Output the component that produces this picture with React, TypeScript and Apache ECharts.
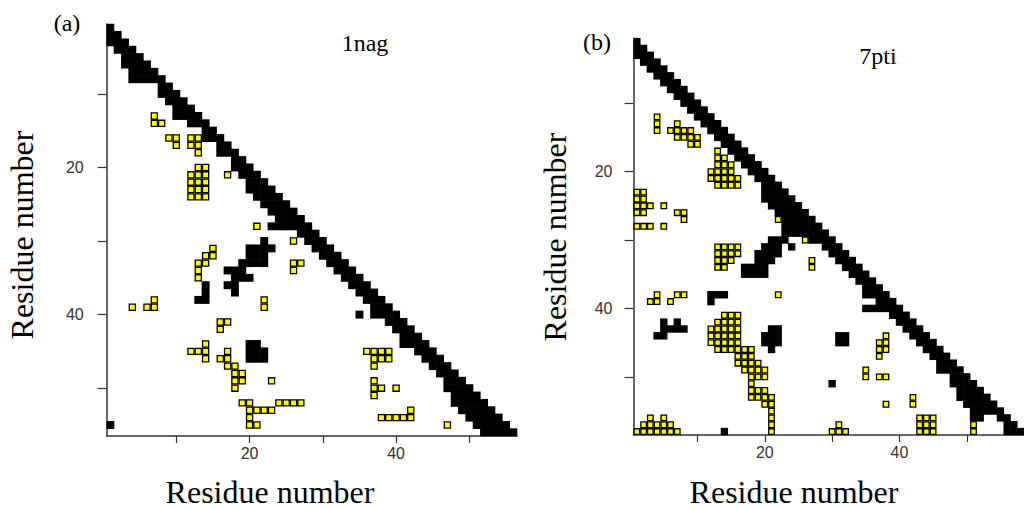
import React, { useEffect, useRef } from "react";
import * as echarts from "echarts";

// ---------- data ----------
const lengthA = 56; // 1nag residues
const lengthB = 58; // 7pti residues
const residuesA: string[] = Array.from({ length: lengthA }, (_, k) => String(k + 1));
const residuesB: string[] = Array.from({ length: lengthB }, (_, k) => String(k + 1));

const tickMarks = [10, 20, 30, 40, 50];
const tickLabels = ["20", "40"];

// runs of contacts: [row residue, first column residue, last column residue]
const blackA: number[][] = [
  [1, 1, 1], [2, 1, 2], [3, 1, 3], [4, 2, 4], [5, 3, 5], [6, 3, 6], [7, 4, 7], [8, 4, 8],
  [9, 8, 9], [10, 8, 10], [11, 9, 11], [12, 10, 12], [13, 10, 13], [14, 12, 14], [15, 14, 15],
  [16, 14, 16], [17, 16, 17], [18, 16, 18], [19, 18, 19], [20, 18, 20], [21, 19, 21],
  [22, 20, 22], [23, 20, 23], [24, 21, 24], [25, 22, 25], [26, 23, 26], [27, 24, 27],
  [28, 23, 28], [29, 27, 29], [30, 28, 30], [31, 29, 31], [32, 30, 32], [33, 31, 33],
  [34, 32, 34], [35, 33, 35], [36, 34, 36], [37, 35, 37], [38, 36, 38], [39, 37, 39],
  [40, 37, 40], [41, 39, 41], [42, 40, 42], [43, 41, 43], [44, 41, 44], [45, 43, 45],
  [46, 44, 46], [47, 45, 47], [48, 46, 48], [49, 47, 49], [50, 47, 50], [51, 48, 51],
  [52, 48, 52], [53, 49, 53], [54, 50, 54], [55, 51, 55], [56, 52, 56],
  [30, 22, 22], [31, 20, 23], [32, 20, 22], [33, 19, 22], [34, 17, 19], [35, 18, 20],
  [36, 17, 18], [37, 18, 18],
  [36, 14, 14], [37, 14, 14], [38, 13, 14],
  [44, 20, 21], [45, 20, 22], [46, 20, 22],
  [40, 35, 35], [55, 1, 1],
];

const yellowA: number[][] = [
  [13, 7, 7], [14, 7, 8], [16, 9, 10], [16, 12, 13], [17, 10, 10], [17, 12, 13], [18, 13, 13],
  [20, 13, 14], [21, 12, 14], [21, 17, 17], [22, 12, 14], [23, 12, 14], [24, 12, 14],
  [28, 21, 21], [30, 26, 26], [31, 15, 15], [32, 14, 15], [33, 13, 14], [33, 26, 27],
  [34, 13, 13], [34, 26, 26], [35, 13, 13], [38, 7, 7], [38, 22, 22], [39, 4, 4], [39, 6, 7],
  [39, 22, 22], [41, 16, 17], [42, 16, 16], [44, 14, 14], [45, 12, 14], [45, 17, 17],
  [45, 36, 39], [46, 14, 14], [46, 16, 17], [46, 37, 39], [47, 17, 18], [47, 37, 37],
  [48, 18, 19], [49, 18, 19], [49, 23, 23], [49, 37, 37], [50, 18, 18], [50, 37, 38],
  [50, 40, 40], [51, 37, 37], [52, 19, 20], [52, 24, 27], [53, 20, 23], [53, 42, 42],
  [54, 20, 20], [54, 38, 42], [55, 20, 21], [55, 47, 47],
];

const blackB: number[][] = [
  [1, 1, 1], [2, 1, 2], [3, 1, 3], [4, 2, 4], [5, 3, 5], [6, 4, 6], [7, 5, 7], [8, 6, 8],
  [9, 7, 9], [10, 8, 10], [11, 9, 11], [12, 10, 12], [13, 11, 13], [14, 12, 14], [15, 13, 15],
  [16, 14, 16], [17, 15, 17], [18, 16, 18], [19, 17, 19], [20, 18, 20], [21, 19, 21],
  [22, 20, 22], [23, 20, 23], [24, 20, 24], [25, 21, 25], [26, 22, 26], [27, 23, 27],
  [28, 23, 28], [29, 23, 29], [30, 27, 30], [31, 29, 31], [32, 30, 32], [33, 31, 33],
  [34, 32, 34], [35, 33, 35], [36, 34, 36], [37, 35, 37], [38, 35, 38], [39, 37, 39],
  [40, 35, 40], [41, 39, 41], [42, 40, 42], [43, 41, 43], [44, 42, 44], [45, 43, 45],
  [46, 44, 46], [47, 45, 47], [48, 46, 48], [49, 46, 49], [50, 48, 50], [51, 48, 51],
  [52, 49, 52], [53, 49, 53], [54, 50, 54], [55, 51, 55], [56, 51, 52], [56, 55, 56],
  [57, 56, 57], [58, 56, 58],
  [30, 21, 23], [31, 20, 22], [31, 24, 24], [32, 19, 22], [33, 19, 21], [34, 17, 20],
  [35, 17, 20],
  [38, 12, 14], [39, 12, 12], [42, 5, 5], [42, 7, 7], [43, 5, 8], [44, 4, 5],
  [43, 21, 22], [44, 20, 22], [45, 20, 22], [46, 21, 21],
  [44, 31, 32], [45, 31, 32], [51, 30, 30], [58, 14, 14],
];

const yellowB: number[][] = [
  [12, 4, 4], [13, 4, 4], [14, 4, 4], [13, 7, 7], [14, 6, 9], [15, 7, 10], [16, 9, 10],
  [17, 13, 13], [18, 13, 14], [19, 13, 15], [20, 12, 15], [21, 12, 16], [22, 13, 16],
  [23, 1, 2], [24, 1, 2], [25, 1, 3], [25, 5, 5], [26, 1, 2], [26, 7, 8], [27, 8, 8],
  [27, 22, 22], [28, 1, 3], [28, 5, 5], [30, 26, 26],
  [31, 13, 16], [32, 13, 16], [33, 13, 15], [33, 27, 27], [34, 13, 14], [34, 27, 27],
  [38, 4, 4], [38, 7, 8], [38, 22, 22], [39, 3, 4], [39, 6, 6],
  [41, 14, 16], [42, 13, 16], [43, 12, 16], [44, 12, 16], [44, 38, 38], [45, 12, 16],
  [45, 37, 38], [46, 13, 18], [46, 37, 38], [47, 16, 18], [47, 37, 37], [48, 16, 19],
  [49, 17, 20], [49, 35, 35], [50, 18, 20], [50, 35, 35], [50, 37, 38], [51, 18, 18],
  [52, 18, 20], [53, 18, 21], [53, 42, 42], [54, 20, 21], [54, 38, 38], [54, 42, 42],
  [55, 21, 21], [56, 21, 21], [56, 3, 3], [56, 5, 5], [56, 43, 45], [57, 2, 6],
  [57, 21, 21], [57, 31, 31], [57, 43, 45], [57, 51, 51], [58, 1, 7], [58, 21, 21],
  [58, 30, 32], [58, 43, 45], [58, 51, 51],
];

// ---------- helpers ----------
function expand(runs: number[][]): number[][] {
  const out: number[][] = [];
  runs.forEach(([row, a, b]) => {
    for (let c = a; c <= b; c++) out.push([c - 1, row - 1]);
  });
  return out;
}

const blackRender = (params: any, api: any) => {
  const c = api.coord([api.value(0), api.value(1)]);
  const s = api.size([1, 1]);
  return {
    type: "rect",
    shape: { x: c[0] - s[0] / 2 - 0.3, y: c[1] - s[1] / 2 - 0.3, width: s[0] + 0.6, height: s[1] + 0.6 },
    style: { fill: "#000000" },
  };
};

const yellowRender = (params: any, api: any) => {
  const c = api.coord([api.value(0), api.value(1)]);
  const s = api.size([1, 1]);
  return {
    type: "rect",
    shape: { x: c[0] - s[0] / 2 + 0.6, y: c[1] - s[1] / 2 + 0.6, width: s[0] - 1.2, height: s[1] - 1.2 },
    style: { fill: "#ffff00", stroke: "#000000", lineWidth: 1.3 },
  };
};

const axisColor = "#333333";
const labelFont = { fontSize: 16, color: "#333333", fontFamily: "Liberation Sans" };

function makeX(gridIndex: number, data: string[]) {
  return {
    gridIndex,
    type: "category",
    data,
    position: "bottom",
    boundaryGap: true,
    axisLine: { show: true, lineStyle: { color: axisColor, width: 1.5 } },
    axisTick: {
      show: true,
      alignWithLabel: true,
      interval: (i: number) => tickMarks.includes(i + 1),
      length: 7,
      lineStyle: { color: axisColor, width: 1.2 },
    },
    axisLabel: { interval: (i: number, v: string) => tickLabels.includes(v), margin: 9, ...labelFont },
    splitLine: { show: false },
  };
}

function makeY(gridIndex: number, data: string[], margin: number) {
  return {
    gridIndex,
    type: "category",
    data,
    inverse: true,
    position: "left",
    boundaryGap: true,
    axisLine: { show: true, lineStyle: { color: axisColor, width: 1.5 } },
    axisTick: {
      show: true,
      alignWithLabel: true,
      interval: (i: number) => tickMarks.includes(i + 1),
      length: 9,
      lineStyle: { color: axisColor, width: 1.2 },
    },
    axisLabel: { interval: (i: number, v: string) => tickLabels.includes(v), margin, ...labelFont },
    splitLine: { show: false },
  };
}

const serif = '"Liberation Serif", "Times New Roman", serif';

export default function App() {
  const ref = useRef<HTMLDivElement>(null);
  useEffect(() => {
    if (!ref.current) return;
    const chart = echarts.init(ref.current, undefined, { renderer: "svg" });
    chart.setOption({
      animation: false,
      backgroundColor: "#ffffff",
      grid: [
        { left: 106.7, top: 24, width: 410.3, height: 412 },
        { left: 633.5, top: 38.2, width: 398.6, height: 396.8 },
      ],
      xAxis: [makeX(0, residuesA), makeX(1, residuesB)],
      yAxis: [makeY(0, residuesA, 23), makeY(1, residuesB, 21)],
      series: [
        { type: "custom", name: "1nag contacts", xAxisIndex: 0, yAxisIndex: 0, data: expand(blackA), renderItem: blackRender, silent: true },
        { type: "custom", name: "1nag selected", xAxisIndex: 0, yAxisIndex: 0, data: expand(yellowA), renderItem: yellowRender, silent: true },
        { type: "custom", name: "7pti contacts", xAxisIndex: 1, yAxisIndex: 1, data: expand(blackB), renderItem: blackRender, silent: true },
        { type: "custom", name: "7pti selected", xAxisIndex: 1, yAxisIndex: 1, data: expand(yellowB), renderItem: yellowRender, silent: true },
      ],
      graphic: [
        { type: "text", x: 67, y: 23, style: { text: "(a)", font: `24px ${serif}`, fill: "#000", textAlign: "center", textVerticalAlign: "middle" } },
        { type: "text", x: 597, y: 42, style: { text: "(b)", font: `24px ${serif}`, fill: "#000", textAlign: "center", textVerticalAlign: "middle" } },
        { type: "text", x: 365, y: 43, style: { text: "1nag", font: `24px ${serif}`, fill: "#000", textAlign: "center", textVerticalAlign: "middle" } },
        { type: "text", x: 878, y: 56, style: { text: "7pti", font: `24px ${serif}`, fill: "#000", textAlign: "center", textVerticalAlign: "middle" } },
        { type: "text", x: 270, y: 492, style: { text: "Residue number", font: `32px ${serif}`, fill: "#000", textAlign: "center", textVerticalAlign: "middle" } },
        { type: "text", x: 794, y: 492, style: { text: "Residue number", font: `32px ${serif}`, fill: "#000", textAlign: "center", textVerticalAlign: "middle" } },
        { type: "text", x: 22, y: 235, rotation: Math.PI / 2, style: { text: "Residue number", font: `32px ${serif}`, fill: "#000", textAlign: "center", textVerticalAlign: "middle" } },
        { type: "text", x: 555, y: 237, rotation: Math.PI / 2, style: { text: "Residue number", font: `32px ${serif}`, fill: "#000", textAlign: "center", textVerticalAlign: "middle" } },
      ],
    });
    return () => chart.dispose();
  }, []);
  return (
    <div
      ref={ref}
      style={{ position: "absolute", left: 0, top: 0, width: 1024, height: 509, background: "#fff" }}
    />
  );
}
